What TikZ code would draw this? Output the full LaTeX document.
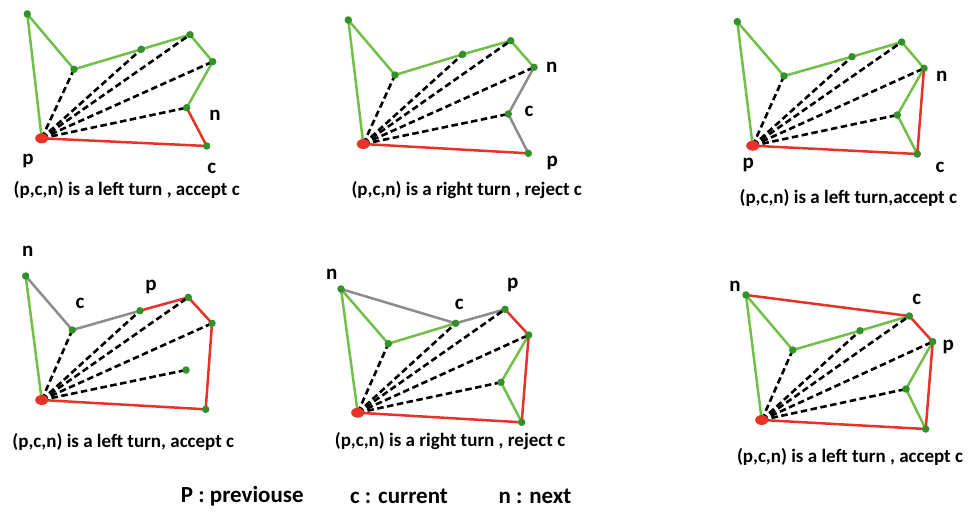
\documentclass[tikz,border=0pt]{standalone}
\usepackage{fontspec}
\setmainfont{Carlito}
\usetikzlibrary{backgrounds,shapes.geometric}
\definecolor{lgreen}{RGB}{112,192,72}
\definecolor{dgreen}{RGB}{50,145,40}
\definecolor{hred}{RGB}{232,50,40}
\definecolor{hgray}{RGB}{140,140,140}
\tikzset{
  dot/.style={circle,fill=dgreen,inner sep=0pt,minimum size=7.5pt},
  pivot/.style={ellipse,fill=hred,inner sep=0pt,minimum width=13pt,minimum height=10pt},
  gedge/.style={lgreen,line width=2.5pt},
  redge/.style={hred,line width=2.5pt},
  yedge/.style={hgray,line width=2.5pt},
  dedge/.style={black,line width=2.6pt,dash pattern=on 6.5pt off 3.5pt},
  lab/.style={font=\bfseries\fontsize{21}{24}\selectfont,inner sep=0pt},
  captxt/.style={font=\bfseries\fontsize{19}{22}\selectfont,inner sep=0pt},
  legtxt/.style={font=\bfseries\fontsize{23}{26}\selectfont,inner sep=0pt},
}
\begin{document}
\begin{tikzpicture}[x=1pt,y=-1pt]
\useasboundingbox (0,0) rectangle (971,511);
% ---------- panel 1 ----------
\node[pivot] (p1) at (41.7,138.3) {};
\node[dot] (a1) at (27.3,14) {};
\node[dot] (b1) at (74,69.3) {};
\node[dot] (c1) at (141.3,49.3) {};
\node[dot] (d1) at (190,34.7) {};
\node[dot] (e1) at (212.7,61.7) {};
\node[dot] (f1) at (186.7,107.7) {};
\node[dot] (g1) at (206.7,146) {};
\node[lab] (ln1) at (215,115) {n};
\node[lab] (lp1) at (28,161) {p};
\node[lab] (lc1) at (211.7,168) {c};
\node[captxt] (cap1) at (126.7,190) {(p,c,n) is a left turn , accept c};
% ---------- panel 2 ----------
\node[pivot] (p2) at (363.3,144) {};
\node[dot] (a2) at (348.3,20) {};
\node[dot] (b2) at (395,75) {};
\node[dot] (c2) at (462.7,54.3) {};
\node[dot] (d2) at (510.7,40.7) {};
\node[dot] (e2) at (534,67.3) {};
\node[dot] (f2) at (508.3,114) {};
\node[dot] (g2) at (528.3,153.3) {};
\node[lab] (ln2) at (551.7,67.3) {n};
\node[lab] (lc2) at (529,111.7) {c};
\node[lab] (lp2) at (552.3,163) {p};
\node[captxt] (cap2) at (466.7,190) {(p,c,n) is a right turn , reject c};
% ---------- panel 3 ----------
\node[pivot] (p3) at (752.7,145.7) {};
\node[dot] (a3) at (737.3,21.7) {};
\node[dot] (b3) at (784,76) {};
\node[dot] (c3) at (852,56.7) {};
\node[dot] (d3) at (901.7,42) {};
\node[dot] (e3) at (924,68.3) {};
\node[dot] (f3) at (897.3,115) {};
\node[dot] (g3) at (917.3,154) {};
\node[lab] (ln3) at (941.7,76) {n};
\node[lab] (lp3) at (748.3,165) {p};
\node[lab] (lc3) at (940,167) {c};
\node[captxt] (cap3) at (848.3,198) {(p,c,n) is a left turn,accept c};
% ---------- panel 4 ----------
\node[pivot] (p4) at (41.7,400) {};
\node[dot] (a4) at (25.7,276) {};
\node[dot] (b4) at (72.3,330) {};
\node[dot] (c4) at (140,310.7) {};
\node[dot] (d4) at (188.3,297.3) {};
\node[dot] (e4) at (212,323.3) {};
\node[dot] (f4) at (186,370) {};
\node[dot] (g4) at (205.7,409.3) {};
\node[lab] (ln4) at (27.7,251) {n};
\node[lab] (lc4) at (80,303) {c};
\node[lab] (lp4) at (151,287.3) {p};
\node[captxt] (cap4) at (123.3,442) {(p,c,n) is a left turn, accept c};
% ---------- panel 5 ----------
\node[pivot] (p5) at (357.7,412.7) {};
\node[dot] (a5) at (341,289) {};
\node[dot] (b5) at (388.3,343.7) {};
\node[dot] (c5) at (455.7,323.3) {};
\node[dot] (d5) at (505,309.3) {};
\node[dot] (e5) at (528.7,335) {};
\node[dot] (f5) at (501,382.3) {};
\node[dot] (g5) at (521.7,422.3) {};
\node[lab] (ln5) at (331.7,274.7) {n};
\node[lab] (lc5) at (459.3,304) {c};
\node[lab] (lp5) at (512.7,284.7) {p};
\node[captxt] (cap5) at (450,441) {(p,c,n) is a right turn , reject c};
% ---------- panel 6 ----------
\node[pivot] (p6) at (761.7,420) {};
\node[dot] (a6) at (746,295) {};
\node[dot] (b6) at (792.7,350) {};
\node[dot] (c6) at (860,330.7) {};
\node[dot] (d6) at (909.3,316) {};
\node[dot] (e6) at (932.7,341.7) {};
\node[dot] (f6) at (906,389) {};
\node[dot] (g6) at (925.7,429) {};
\node[lab] (ln6) at (735,286.3) {n};
\node[lab] (lc6) at (916.7,299.7) {c};
\node[lab] (lp6) at (948.3,347.3) {p};
\node[captxt] (cap6) at (850,457) {(p,c,n) is a left turn , accept c};
% ---------- legend ----------
\node[legtxt] (leg1) at (242.3,496) {P : previouse};
\node[legtxt] (leg2) at (399,496) {c : current};
\node[legtxt] (leg3) at (535,496) {n : next};
% ---------- edges ----------
\begin{pgfonlayer}{background}
% panel 1
\draw[gedge] (p1.center) -- (a1.center) -- (b1.center) -- (c1.center) -- (d1.center) -- (e1.center) -- (f1.center);
\draw[redge] (p1.center) -- (g1.center) -- (f1.center);
\foreach \n in {b1,c1,d1,e1,f1} \draw[dedge] (p1.center) -- (\n.center);
% panel 2
\draw[gedge] (p2.center) -- (a2.center) -- (b2.center) -- (c2.center) -- (d2.center) -- (e2.center);
\draw[yedge] (e2.center) -- (f2.center) -- (g2.center);
\draw[redge] (p2.center) -- (g2.center);
\foreach \n in {b2,c2,d2,e2,f2} \draw[dedge] (p2.center) -- (\n.center);
% panel 3
\draw[gedge] (p3.center) -- (a3.center) -- (b3.center) -- (c3.center) -- (d3.center) -- (e3.center) -- (f3.center) -- (g3.center);
\draw[redge] (p3.center) -- (g3.center) -- (e3.center);
\foreach \n in {b3,c3,d3,e3,f3} \draw[dedge] (p3.center) -- (\n.center);
% panel 4
\draw[gedge] (p4.center) -- (a4.center);
\draw[yedge] (a4.center) -- (b4.center) -- (c4.center);
\draw[redge] (c4.center) -- (d4.center) -- (e4.center) -- (g4.center) -- (p4.center);
\foreach \n in {b4,c4,d4,e4,f4} \draw[dedge] (p4.center) -- (\n.center);
% panel 5
\draw[gedge] (p5.center) -- (a5.center) -- (b5.center) -- (c5.center);
\draw[gedge] (e5.center) -- (f5.center) -- (g5.center);
\draw[yedge] (a5.center) -- (c5.center) -- (d5.center);
\draw[redge] (d5.center) -- (e5.center) -- (g5.center) -- (p5.center);
\foreach \n in {b5,c5,d5,e5,f5} \draw[dedge] (p5.center) -- (\n.center);
% panel 6
\draw[gedge] (p6.center) -- (a6.center) -- (b6.center) -- (c6.center) -- (d6.center);
\draw[gedge] (e6.center) -- (f6.center) -- (g6.center);
\draw[redge] (a6.center) -- (d6.center) -- (e6.center) -- (g6.center) -- (p6.center);
\foreach \n in {b6,c6,d6,e6,f6} \draw[dedge] (p6.center) -- (\n.center);
\end{pgfonlayer}
\end{tikzpicture}
\end{document}
